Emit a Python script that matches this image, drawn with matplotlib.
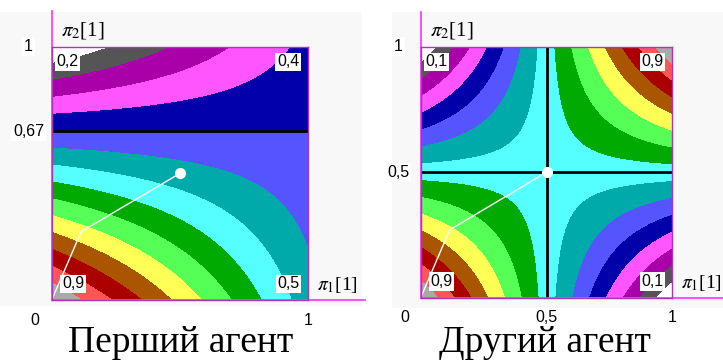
import numpy as np
import matplotlib.pyplot as plt
from matplotlib.patches import Rectangle

# payoff of each agent at the corners (pi1, pi2): (0,0), (1,0), (0,1), (1,1)
agent1_corners = [0.9, 0.5, 0.2, 0.4]
agent2_corners = [0.9, 0.1, 0.1, 0.9]
agent1_labels = ["0,9", "0,5", "0,2", "0,4"]
agent2_labels = ["0,9", "0,1", "0,1", "0,9"]

# learning trajectory (same in both panels)
path_x = [0.0, 0.115, 0.5]
path_y = [0.0, 0.27, 0.5]

# equilibrium lines
agent1_hlines = [2 / 3]
agent1_vlines = []
agent2_hlines = [0.5]
agent2_vlines = [0.5]

# tick labels
agent1_yticks = [(1.0, "1"), (2 / 3, "0,67")]
agent1_xticks = [(1.0, "1")]
agent2_yticks = [(1.0, "1"), (0.5, "0,5")]
agent2_xticks = [(0.5, "0,5"), (1.0, "1")]

captions = ["Перший агент", "Другий агент"]

# 15-colour palette, low -> high
band_colors = ["#FFFFFF", "#555555", "#AA00AA", "#FF55FF", "#0000AA",
               "#5555FF", "#00AAAA", "#55FFFF", "#00AA00", "#55FF55",
               "#FFFF55", "#AA5500", "#AA0000", "#FF5555", "#AAAAAA"]

plt.rcParams['mathtext.fontset'] = 'stix'

fig = plt.figure(figsize=(7.23, 3.63), dpi=100)

# faint panel backgrounds
fig.patches.append(Rectangle((0 / 723, 1 - 306 / 363), 362 / 723, 294 / 363,
                             transform=fig.transFigure, fc="#F8F8F8", ec="none", zorder=-5))
fig.patches.append(Rectangle((392 / 723, 1 - 308 / 363), 331 / 723, 296 / 363,
                             transform=fig.transFigure, fc="#F8F8F8", ec="none", zorder=-5))

ax1 = fig.add_axes([51.7 / 723, 1 - 300 / 363, 256.6 / 723, 253.3 / 363])
ax2 = fig.add_axes([420.7 / 723, 1 - 297.7 / 363, 251.6 / 723, 251 / 363])

g = np.linspace(0, 1, 401)
X, Y = np.meshgrid(g, g)


def draw_panel(ax, corners, corner_labels, hlines, vlines, yticks, xticks, xaxis_len, caption, cap_x):
    f00, f10, f01, f11 = corners
    Z = (f00 * (1 - X) * (1 - Y) + f10 * X * (1 - Y)
         + f01 * (1 - X) * Y + f11 * X * Y)
    levels = np.linspace(min(corners), max(corners), len(band_colors) + 1)
    ax.contourf(X, Y, Z, levels=levels, colors=band_colors)

    for yv in hlines:
        ax.axhline(yv, color="black", lw=2)
    for xv in vlines:
        ax.axvline(xv, color="black", lw=2)

    ax.plot(path_x, path_y, color="white", lw=1)
    ax.plot(path_x[-1], path_y[-1], "o", color="white", ms=7, mec="white")

    ax.set_xlim(0, 1)
    ax.set_ylim(0, 1)
    ax.set_xticks([])
    ax.set_yticks([])
    for s in ax.spines.values():
        s.set_color("#B030C0")
        s.set_linewidth(1)

    # outer axis lines
    ax.plot([0, 0], [0, 1.14], color="#FF40FF", lw=1.3, transform=ax.transAxes, clip_on=False)
    ax.plot([0, xaxis_len], [0, 0], color="#FF40FF", lw=1.3, transform=ax.transAxes, clip_on=False)

    # corner labels
    box = dict(fc="white", ec="none", pad=1.2)
    lab_kw = dict(fontsize=11.5, family="Liberation Sans", transform=ax.transAxes, bbox=box)
    ax.text(0.04, 0.035, corner_labels[0], ha="left", va="bottom", **lab_kw)
    ax.text(0.965, 0.035, corner_labels[1], ha="right", va="bottom", **lab_kw)
    ax.text(0.02, 0.97, corner_labels[2], ha="left", va="top", **lab_kw)
    ax.text(0.965, 0.97, corner_labels[3], ha="right", va="top", **lab_kw)

    tick_kw = dict(fontsize=11.5, family="Liberation Sans", transform=ax.transAxes,
                   bbox=dict(fc="white", ec="none", pad=1.5))
    for yv, t in yticks:
        ax.text(-0.09, yv, t, ha="center", va="center", **tick_kw)
    ax.text(-0.065, -0.08, "0", ha="center", va="center", **tick_kw)
    for xv, t in xticks:
        ax.text(xv, -0.08, t, ha="center", va="center", **tick_kw)

    ax.text(0.035, 1.065, r"$\pi_2$[1]", ha="left", va="center", fontsize=15,
            family="Liberation Serif", transform=ax.transAxes)
    ax.text(1.035, 0.06, r"$\pi_1$[1]", ha="left", va="center", fontsize=14,
            family="Liberation Serif", transform=ax.transAxes)

    fig.text(cap_x, 1 - 343 / 363, caption, ha="center", va="center", fontsize=27,
             family="Liberation Serif")


draw_panel(ax1, agent1_corners, agent1_labels, agent1_hlines, agent1_vlines,
           agent1_yticks, agent1_xticks, 1.22, captions[0], 181 / 723)
draw_panel(ax2, agent2_corners, agent2_labels, agent2_hlines, agent2_vlines,
           agent2_yticks, agent2_xticks, 1.2, captions[1], 545 / 723)

fig.savefig("out.png", dpi=100)
